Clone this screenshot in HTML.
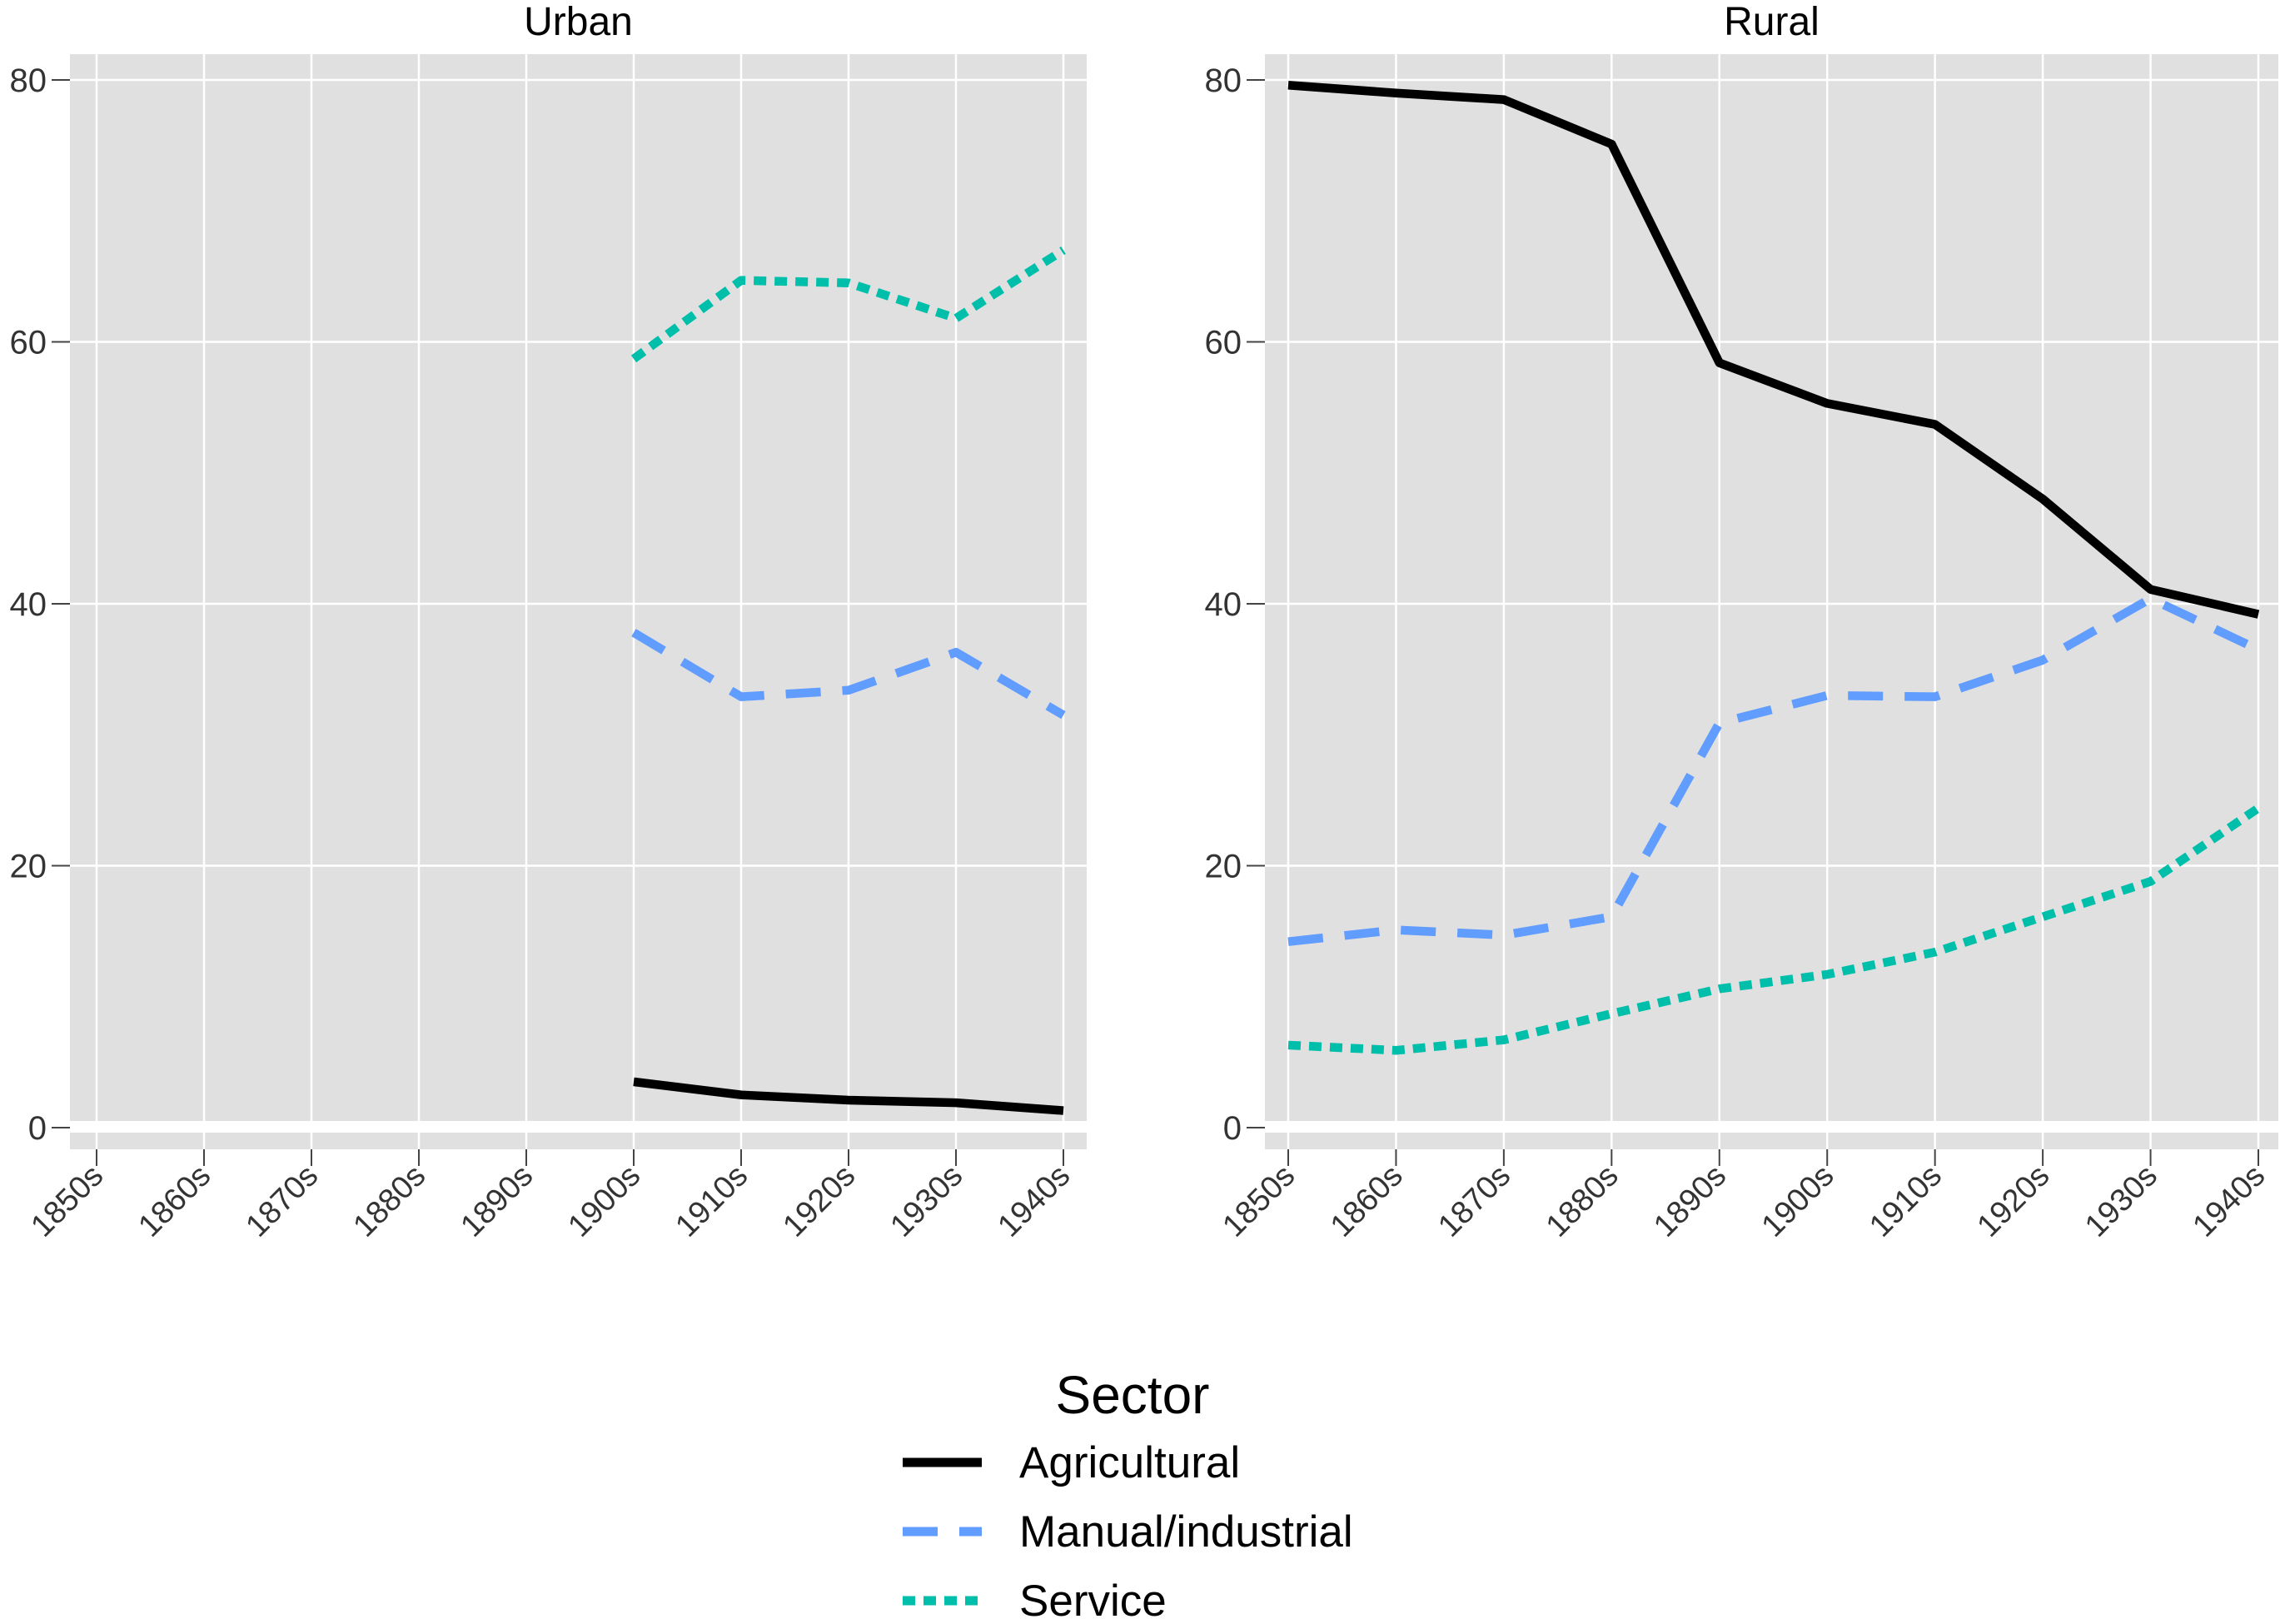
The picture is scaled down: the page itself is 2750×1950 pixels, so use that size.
<!DOCTYPE html>
<html><head><meta charset="utf-8"><style>
html,body{margin:0;padding:0;background:#fff}
svg{display:block;font-family:"Liberation Sans",sans-serif}
</style></head><body>
<svg id="c" width="2750" height="1950" viewBox="0 0 2750 1950" xmlns="http://www.w3.org/2000/svg"></svg>
<script>
const categories=["1850s","1860s","1870s","1880s","1890s","1900s","1910s","1920s","1930s","1940s"];
const yTicks=[0,20,40,60,80];
const urbanAgricultural=[null,null,null,null,null,3.5,2.5,2.1,1.9,1.3];
const urbanManual=[null,null,null,null,null,37.8,32.9,33.4,36.3,31.5];
const urbanService=[null,null,null,null,null,58.7,64.7,64.5,61.8,67.0];
const ruralAgricultural=[79.6,79.0,78.5,75.1,58.4,55.3,53.7,48.0,41.1,39.2];
const ruralManual=[14.2,15.1,14.7,16.1,30.9,33.0,32.9,35.7,40.4,36.5];
const ruralService=[6.3,5.9,6.7,8.7,10.6,11.7,13.4,16.1,18.8,24.4];
const seriesNames=["Agricultural","Manual/industrial","Service"];

const NS="http://www.w3.org/2000/svg";
const svg=document.getElementById('c');
function mk(tag,attrs,parent){const e=document.createElementNS(NS,tag);for(const k in attrs)e.setAttribute(k,attrs[k]);(parent||svg).appendChild(e);return e;}
const styles=[
 {stroke:"#000000",dash:""},
 {stroke:"#619CFF",dash:"42,26"},
 {stroke:"#00BFAA",dash:"15,10"}
];
const y0=1354,y80=96;
function yScale(v){return y0+(y80-y0)*v/80;}

function panel(name,title,bgL,bgR,x0,x9,data){
  const g=mk('g',{});
  
  
  const xScale=i=>x0+(x9-x0)*i/(categories.length-1);
  const bg=mk('rect',{x:bgL,y:65,width:bgR-bgL,height:1315,fill:'#e0e0e0'},g);
  
  
  const band=mk('rect',{x:bgL,y:y0-8,width:bgR-bgL,height:14,fill:'#ffffff'},g);
  
  
  yTicks.forEach(t=>{
    const l=mk('line',{x1:bgL,x2:bgR,y1:yScale(t),y2:yScale(t),stroke:'#fff','stroke-width':2.5},g);
    
    
    const tk=mk('line',{x1:bgL-22,x2:bgL,y1:yScale(t),y2:yScale(t),stroke:'#444','stroke-width':2},g);
    
    
    const tx=mk('text',{x:bgL-28,y:yScale(t)+14,'text-anchor':'end','font-size':40,fill:'#333'},g);
    tx.textContent=t;
    
    
  });
  categories.forEach((c,i)=>{
    const x=xScale(i);
    const l=mk('line',{x1:x,x2:x,y1:65,y2:1380,stroke:'#fff','stroke-width':2.5},g);
    
    
    const tk=mk('line',{x1:x,x2:x,y1:1380,y2:1400,stroke:'#444','stroke-width':2},g);
    
    
    const tx=mk('text',{x:x+10,y:1414,'text-anchor':'end','font-size':38,fill:'#333',transform:`rotate(-45 ${x+10} 1414)`},g);
    tx.textContent=c;
    
    
  });
  data.forEach((arr,si)=>{
    let d='';
    arr.forEach((v,i)=>{if(v===null)return;d+=(d?'L':'M')+xScale(i)+','+yScale(v);});
    const p=mk('path',{d:d,fill:'none',stroke:styles[si].stroke,'stroke-width':10.5,'stroke-dasharray':styles[si].dash,'stroke-linejoin':'round'},g);
    
    
  });
  const tt=mk('text',{x:(bgL+bgR)/2,y:42,'text-anchor':'middle','font-size':48,fill:'#000'},g);
  tt.textContent=title;
  
  
}
panel('urban','Urban',84,1305,116,1277,[urbanAgricultural,urbanManual,urbanService]);
panel('rural','Rural',1519,2736,1547,2712,[ruralAgricultural,ruralManual,ruralService]);

const lg=mk('g',{});


const lt=mk('text',{x:1360,y:1697,'text-anchor':'middle','font-size':64,fill:'#000'},lg);
lt.textContent='Sector';


seriesNames.forEach((n,i)=>{
  const y=1756+i*83;
  const l=mk('line',{x1:1084,x2:1179,y1:y,y2:y,stroke:styles[i].stroke,'stroke-width':11,'stroke-dasharray':styles[i].dash},lg);
  
  
  const t=mk('text',{x:1224,y:y+18,'font-size':53,fill:'#000'},lg);
  t.textContent=n;
  
  
});
</script>
</body></html>
